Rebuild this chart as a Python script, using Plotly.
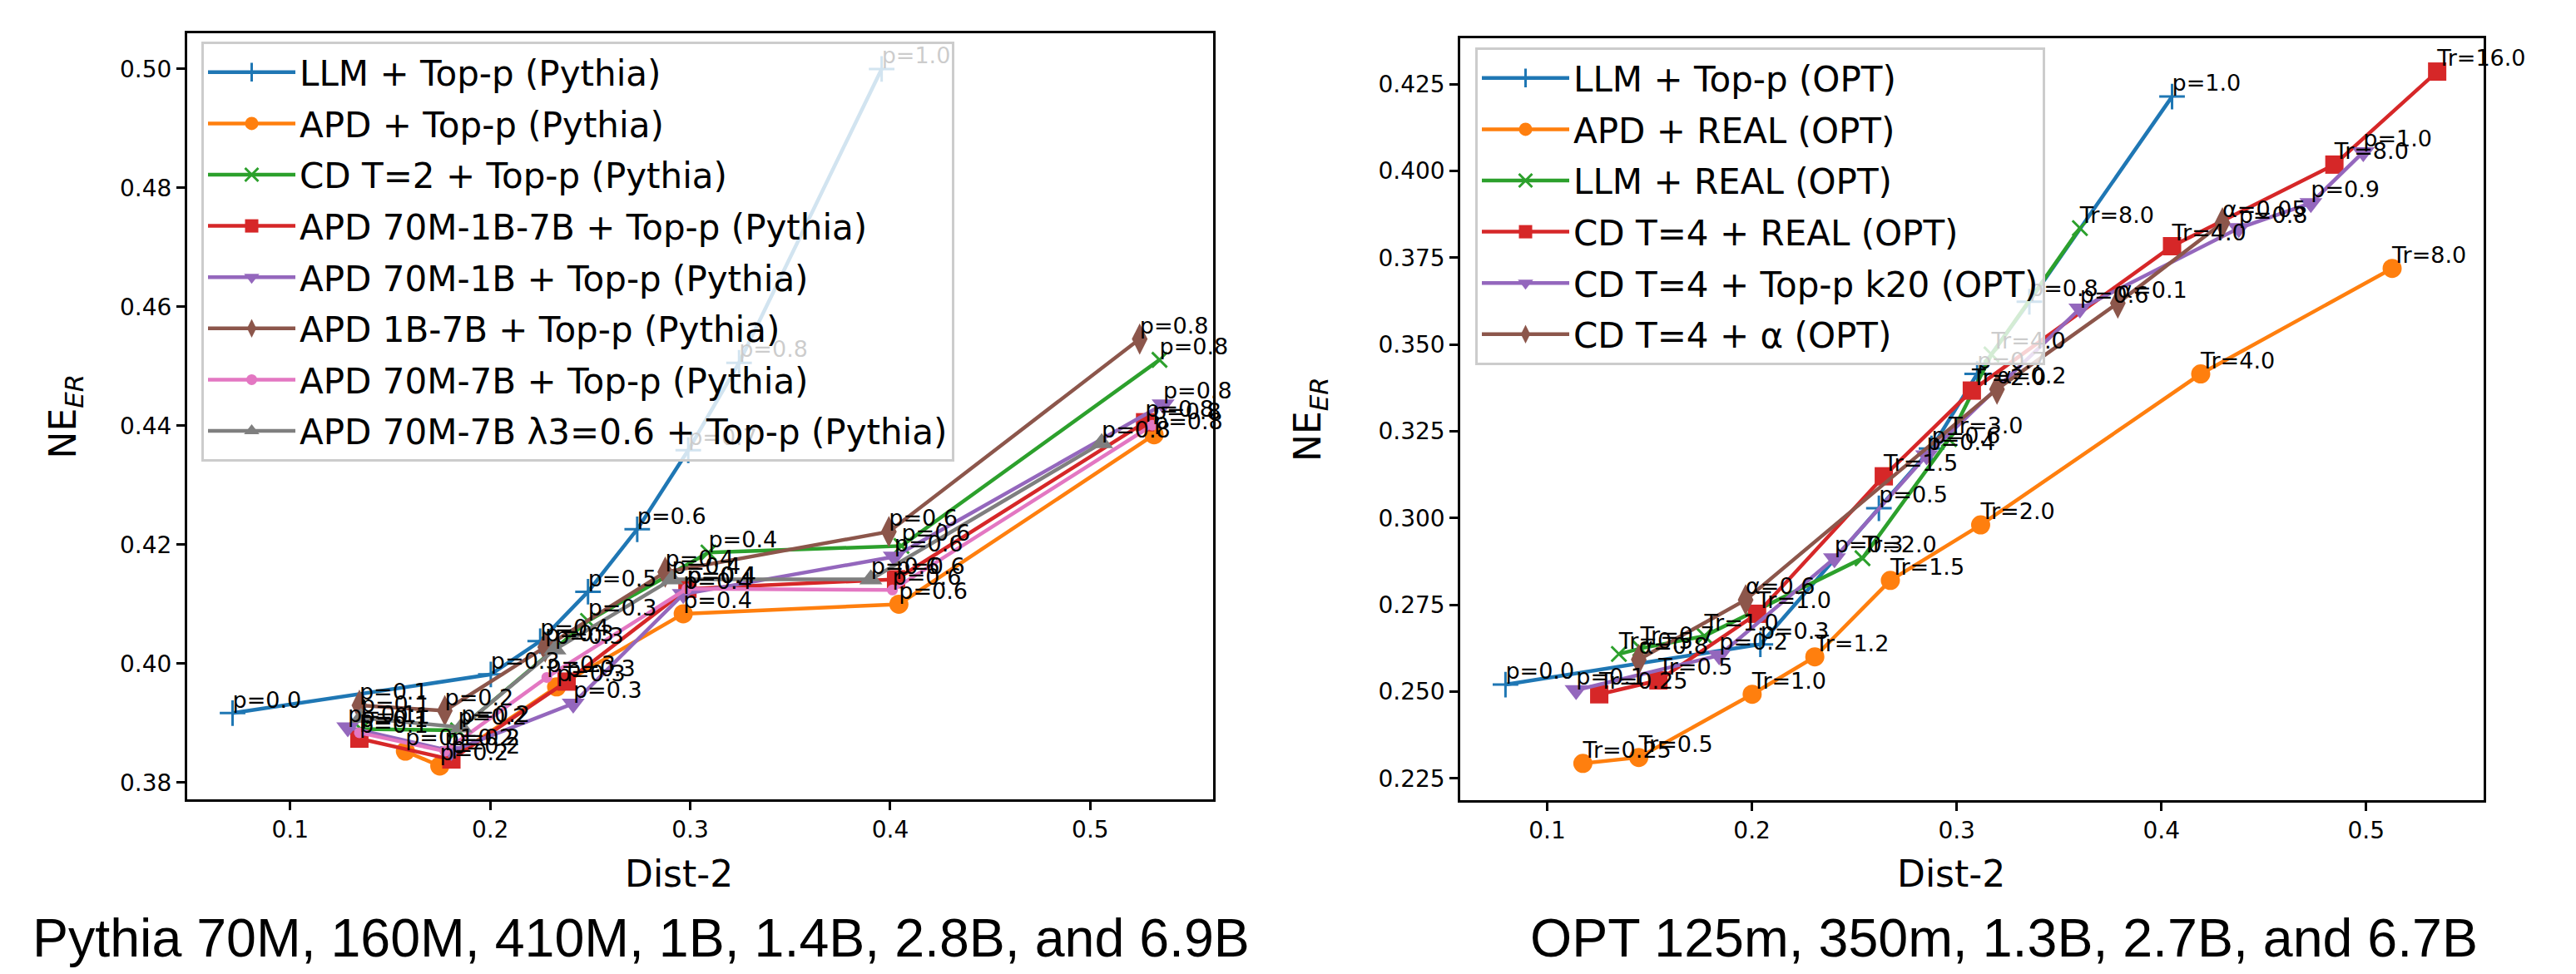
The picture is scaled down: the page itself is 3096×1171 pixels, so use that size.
import plotly.graph_objects as go

# ---------------- colours ----------------
C_BLUE, C_ORANGE, C_GREEN, C_RED = "#1f77b4", "#ff7f0e", "#2ca02c", "#d62728"
C_PURPLE, C_BROWN, C_PINK, C_GRAY = "#9467bd", "#8c564b", "#e377c2", "#7f7f7f"

# ---------------- left panel (Pythia) ----------------
L_TICK_X = [0.1, 0.2, 0.3, 0.4, 0.5]
L_TICK_Y = [0.38, 0.40, 0.42, 0.44, 0.46, 0.48, 0.50]

llm_p = [0.0, 0.3, 0.4, 0.5, 0.6, 0.7, 0.8, 1.0]
llm_x = [0.0712, 0.2003, 0.2250, 0.2489, 0.2735, 0.2990, 0.3244, 0.3957]
llm_y = [0.3917, 0.3982, 0.4038, 0.4121, 0.4226, 0.4359, 0.4506, 0.5000]

apd_p = [0.1, 0.2, 0.3, 0.4, 0.6, 0.8]
apd_x = [0.1576, 0.1748, 0.2332, 0.2965, 0.4043, 0.5319]
apd_y = [0.3853, 0.3828, 0.3961, 0.4084, 0.4100, 0.4385]

cd2_p = [0.1, 0.2, 0.3, 0.4, 0.6, 0.8]
cd2_x = [0.1354, 0.1839, 0.2489, 0.3091, 0.4056, 0.5346]
cd2_y = [0.3890, 0.3888, 0.4072, 0.4187, 0.4198, 0.4511]

a3_p = [0.1, 0.2, 0.3, 0.4, 0.6, 0.8]
a3_x = [0.1346, 0.1806, 0.2382, 0.2986, 0.4029, 0.5274]
a3_y = [0.3874, 0.3839, 0.3970, 0.4126, 0.4142, 0.4406]

a701b_p = [0.1, 0.2, 0.3, 0.4, 0.6, 0.8]
a701b_x = [0.1288, 0.1806, 0.2415, 0.2965, 0.4020, 0.5364]
a701b_y = [0.3893, 0.3853, 0.3933, 0.4117, 0.4180, 0.4436]

a1b7b_p = [0.1, 0.2, 0.3, 0.4, 0.6, 0.8]
a1b7b_x = [0.1346, 0.1773, 0.2275, 0.2875, 0.3993, 0.5247]
a1b7b_y = [0.3930, 0.3921, 0.4028, 0.4154, 0.4222, 0.4546]

a707b_p = [0.1, 0.2, 0.3, 0.4, 0.6, 0.8]
a707b_x = [0.1346, 0.1773, 0.2283, 0.2983, 0.4011, 0.5310]
a707b_y = [0.3884, 0.3853, 0.3977, 0.4126, 0.4124, 0.4401]

alam_p = [0.1, 0.2, 0.3, 0.4, 0.6, 0.8]
alam_x = [0.1354, 0.1855, 0.2324, 0.2908, 0.3903, 0.5057]
alam_y = [0.3909, 0.3893, 0.4024, 0.4142, 0.4142, 0.4371]

# ---------------- right panel (OPT) ----------------
R_TICK_X = [0.1, 0.2, 0.3, 0.4, 0.5]
R_TICK_Y = [0.225, 0.250, 0.275, 0.300, 0.325, 0.350, 0.375, 0.400, 0.425]

opt_llm_p = [0.0, 0.3, 0.5, 0.6, 0.7, 0.8, 1.0]
opt_llm_x = [0.0796, 0.2041, 0.2620, 0.2877, 0.3100, 0.3355, 0.4052]
opt_llm_y = [0.2520, 0.2636, 0.3028, 0.3200, 0.3415, 0.3623, 0.4214]

opt_apd_tr = [0.25, 0.5, 1.0, 1.2, 1.5, 2.0, 4.0, 8.0]
opt_apd_x = [0.1174, 0.1447, 0.2001, 0.2307, 0.2676, 0.3117, 0.4192, 0.5127]
opt_apd_y = [0.2293, 0.2310, 0.2492, 0.2600, 0.2820, 0.2980, 0.3415, 0.3719]

opt_llmreal_tr = [0.5, 0.7, 1.0, 2.0, 3.0, 4.0, 8.0]
opt_llmreal_x = [0.1350, 0.1455, 0.1768, 0.2540, 0.2962, 0.3170, 0.3602]
opt_llmreal_y = [0.2608, 0.2624, 0.2660, 0.2884, 0.3227, 0.3471, 0.3835]

opt_cdreal_tr = [0.25, 0.5, 1.0, 1.5, 2.0, 4.0, 8.0, 16.0]
opt_cdreal_x = [0.1254, 0.1543, 0.2025, 0.2644, 0.3074, 0.4052, 0.4845, 0.5347]
opt_cdreal_y = [0.2492, 0.2532, 0.2724, 0.3120, 0.3367, 0.3783, 0.4018, 0.4286]

opt_cdtop_p = [0.1, 0.2, 0.3, 0.4, 0.6, 0.8, 0.9, 1.0]
opt_cdtop_x = [0.1141, 0.1840, 0.2403, 0.2853, 0.3602, 0.4378, 0.4730, 0.4986]
opt_cdtop_y = [0.2504, 0.2604, 0.2884, 0.3180, 0.3603, 0.3835, 0.3907, 0.4054]

opt_cda_a = [0.8, 0.6, 0.2, 0.1, 0.05]
opt_cda_x = [0.1447, 0.1969, 0.3197, 0.3787, 0.4298]
opt_cda_y = [0.2592, 0.2764, 0.3371, 0.3619, 0.3850]

FONT = "DejaVu Sans"
LW = 4.5

fig = go.Figure()


def marker_for(symbol, size, color):
    m = dict(symbol=symbol, size=size, color=color)
    if symbol in ("cross-thin", "x-thin"):
        m["line"] = dict(color=color, width=3)
    else:
        m["line"] = dict(width=0)
    return m


def tr_label(v):
    return "Tr=%g" % v if v == 0.25 else "Tr=%.1f" % v


left_series = [
    ("LLM + Top-p (Pythia)", llm_x, llm_y, llm_p, C_BLUE, "cross-thin", 22),
    ("APD + Top-p (Pythia)", apd_x, apd_y, apd_p, C_ORANGE, "circle", 23),
    ("CD T=2 + Top-p (Pythia)", cd2_x, cd2_y, cd2_p, C_GREEN, "x-thin", 18),
    ("APD 70M-1B-7B + Top-p (Pythia)", a3_x, a3_y, a3_p, C_RED, "square", 22),
    ("APD 70M-1B + Top-p (Pythia)", a701b_x, a701b_y, a701b_p, C_PURPLE, "triangle-down", 24),
    ("APD 1B-7B + Top-p (Pythia)", a1b7b_x, a1b7b_y, a1b7b_p, C_BROWN, "diamond-tall", 27),
    ("APD 70M-7B + Top-p (Pythia)", a707b_x, a707b_y, a707b_p, C_PINK, "circle", 13),
    ("APD 70M-7B λ3=0.6 + Top-p (Pythia)", alam_x, alam_y, alam_p, C_GRAY, "triangle-up", 24),
]

right_series = [
    ("LLM + Top-p (OPT)", opt_llm_x, opt_llm_y, ["p=%.1f" % v for v in opt_llm_p], C_BLUE, "cross-thin", 22),
    ("APD + REAL (OPT)", opt_apd_x, opt_apd_y, [tr_label(v) for v in opt_apd_tr], C_ORANGE, "circle", 23),
    ("LLM + REAL (OPT)", opt_llmreal_x, opt_llmreal_y, [tr_label(v) for v in opt_llmreal_tr], C_GREEN, "x-thin", 18),
    ("CD T=4 + REAL (OPT)", opt_cdreal_x, opt_cdreal_y, [tr_label(v) for v in opt_cdreal_tr], C_RED, "square", 22),
    ("CD T=4 + Top-p k20 (OPT)", opt_cdtop_x, opt_cdtop_y, ["p=%.1f" % v for v in opt_cdtop_p], C_PURPLE, "triangle-down", 24),
    ("CD T=4 + α (OPT)", opt_cda_x, opt_cda_y, ["α=%g" % v if v == 0.05 else "α=%.1f" % v for v in opt_cda_a], C_BROWN, "diamond-tall", 27),
]

for name, xs, ys, ps, col, sym, sz in left_series:
    fig.add_trace(go.Scatter(
        x=xs, y=ys, mode="lines+markers", name=name,
        line=dict(color=col, width=LW), marker=marker_for(sym, sz, col),
        xaxis="x", yaxis="y", legend="legend", legendgroup=name))

for name, xs, ys, labels, col, sym, sz in right_series:
    fig.add_trace(go.Scatter(
        x=xs, y=ys, mode="lines+markers", name=name,
        line=dict(color=col, width=LW), marker=marker_for(sym, sz, col),
        xaxis="x2", yaxis="y2", legend="legend2", legendgroup=name))

# point annotations (text traces, drawn under the legends)
for name, xs, ys, ps, col, sym, sz in left_series:
    fig.add_trace(go.Scatter(
        x=xs, y=ys, mode="text", text=["p=%.1f" % v for v in ps],
        textposition="top right", textfont=dict(family=FONT, size=27, color="black"),
        cliponaxis=False, showlegend=False, hoverinfo="skip",
        xaxis="x", yaxis="y"))

for name, xs, ys, labels, col, sym, sz in right_series:
    fig.add_trace(go.Scatter(
        x=xs, y=ys, mode="text", text=labels,
        textposition="top right", textfont=dict(family=FONT, size=27, color="black"),
        cliponaxis=False, showlegend=False, hoverinfo="skip",
        xaxis="x2", yaxis="y2"))

W, H = 3096, 1171

axis_common = dict(
    showgrid=False, zeroline=False, showline=True, mirror=True,
    linecolor="black", linewidth=2.5, ticks="outside", ticklen=10,
    tickwidth=2.5, tickcolor="black", automargin=False,
    tickfont=dict(family=FONT, size=28, color="black"),
)

legend_common = dict(
    xanchor="left", yanchor="top",
    bgcolor="rgba(255,255,255,0.8)", bordercolor="#cccccc", borderwidth=3,
    font=dict(family=FONT, size=42, color="black"), itemwidth=105,
    tracegroupgap=4,
)

fig.update_layout(
    width=W, height=H,
    margin=dict(l=0, r=0, t=0, b=0),
    plot_bgcolor="white", paper_bgcolor="white",
    font=dict(family=FONT, color="black"),
    xaxis=dict(domain=[216.7 / W, 1450 / W], range=[0.0484, 0.5614], anchor="y",
               tickvals=L_TICK_X, ticktext=["%.1f" % v for v in L_TICK_X], **axis_common),
    yaxis=dict(domain=[1 - 953 / H, 1 - 32 / H], range=[0.3772, 0.506], anchor="x",
               tickvals=L_TICK_Y, ticktext=["%.2f" % v for v in L_TICK_Y], **axis_common),
    xaxis2=dict(domain=[1747 / W, 2977 / W], range=[0.0575, 0.5574], anchor="y2",
                tickvals=R_TICK_X, ticktext=["%.1f" % v for v in R_TICK_X], **axis_common),
    yaxis2=dict(domain=[1 - 954 / H, 1 - 38 / H], range=[0.2187, 0.4382], anchor="x2",
                tickvals=R_TICK_Y, ticktext=["%.3f" % v for v in R_TICK_Y], **axis_common),
    legend=dict(x=234 / W, y=1 - 42 / H, **legend_common),
    legend2=dict(x=1765 / W, y=1 - 49 / H, **legend_common),
)

ann = []
# axis titles
for cx in [((216.7 + 1450) / 2 - 25) / W, ((1747 + 2977) / 2 - 25) / W]:
    ann.append(dict(text="Dist-2", x=cx, y=1 - 1042 / H, xref="paper", yref="paper",
                    showarrow=False, font=dict(family=FONT, size=44, color="black"),
                    xanchor="center", yanchor="middle"))
for cx, cy in [(70 / W, 1 - 492.5 / H), (1566 / W, 1 - 496 / H)]:
    ann.append(dict(text="NE<sub><i>ER</i></sub>", x=cx, y=cy, xref="paper", yref="paper",
                    showarrow=False, textangle=-90, font=dict(family=FONT, size=44, color="black"),
                    xanchor="center", yanchor="middle"))
# panel captions
ann.append(dict(text="Pythia 70M, 160M, 410M, 1B, 1.4B, 2.8B, and 6.9B", x=762 / W, y=1 - 1120 / H,
                xref="paper", yref="paper", showarrow=False,
                font=dict(family="Liberation Sans", size=64.5, color="black"),
                xanchor="center", yanchor="middle"))
ann.append(dict(text="OPT 125m, 350m, 1.3B, 2.7B, and 6.7B", x=2400 / W, y=1 - 1120 / H,
                xref="paper", yref="paper", showarrow=False,
                font=dict(family="Liberation Sans", size=64.5, color="black"),
                xanchor="center", yanchor="middle"))
fig.update_layout(annotations=ann)

fig.write_html("out.html")
